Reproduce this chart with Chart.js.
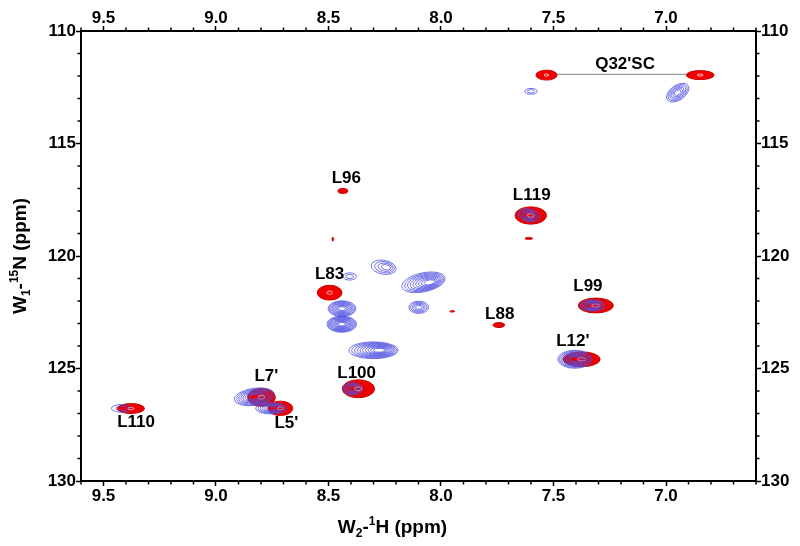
<!DOCTYPE html>
<html>
<head>
<meta charset="utf-8">
<script src="https://cdn.jsdelivr.net/npm/chart.js@4.4.1/dist/chart.umd.min.js"></script>
<style>
  html, body { margin: 0; padding: 0; background: #fff; }
  canvas { display: block; }
</style>
</head>
<body>
<canvas id="hsqc" width="800" height="546"></canvas>
<script>
// axes (ppm)
const xTicks = [9.5, 9.0, 8.5, 8.0, 7.5, 7.0];
const yTicks = [110, 115, 120, 125, 130];
const xRange = [6.6, 9.6];
const yRange = [110, 130];

// red spectrum: peak centre (1H, 15N) and half widths (ppm)
const redH  = [7.531, 6.848, 8.436, 7.601, 7.610, 8.481, 8.495, 7.950, 7.743, 7.312, 7.375, 8.367, 8.798, 8.714, 9.378];
const redN  = [111.96, 111.96, 117.11, 118.20, 119.22, 119.25, 121.63, 122.46, 123.07, 122.20, 124.59, 125.90, 126.28, 126.77, 126.78];
const redWH = [0.047, 0.062, 0.022, 0.070, 0.017, 0.003, 0.055, 0.011, 0.026, 0.078, 0.082, 0.072, 0.062, 0.055, 0.060];
const redWN = [0.22, 0.20, 0.11, 0.385, 0.04, 0.09, 0.33, 0.03, 0.11, 0.33, 0.33, 0.40, 0.40, 0.32, 0.22];

// blue spectrum: centre, half widths, contour levels, tilt (deg), inner shift
const blueH   = [7.600, 6.948, 7.610, 8.406, 8.255, 8.078, 8.099, 8.440, 8.441, 8.300, 7.327, 7.405, 8.393, 8.829, 8.754, 9.420];
const blueN   = [112.68, 112.74, 118.19, 120.91, 120.50, 121.17, 122.28, 122.34, 123.03, 124.19, 122.20, 124.59, 125.90, 126.26, 126.77, 126.77];
const blueWH  = [0.028, 0.056, 0.050, 0.030, 0.056, 0.098, 0.044, 0.062, 0.066, 0.109, 0.056, 0.076, 0.045, 0.090, 0.070, 0.045];
const blueWN  = [0.13, 0.33, 0.28, 0.16, 0.31, 0.42, 0.27, 0.35, 0.36, 0.37, 0.25, 0.40, 0.27, 0.38, 0.25, 0.17];
const blueLev = [2, 6, 5, 2, 4, 9, 5, 9, 11, 10, 6, 9, 5, 8, 6, 2];
const blueRot = [0, -35, 10, 0, 10, -12, 0, 0, 0, 0, 0, 0, 0, -8, 0, 0];
const blueSkew = [0, 0, 0, 0, 0.3, 0.35, 0, 0, 0, 0.3, 0, 0, 0, 0, 0, 0];

// assignments
const labelText = ["Q32'SC", "L96", "L119", "L83", "L88", "L99", "L12'", "L100", "L7'", "L5'", "L110"];
const labelH = [7.182, 8.421, 7.597, 8.495, 7.739, 7.347, 7.414, 8.375, 8.776, 8.687, 9.355];
const labelN = [111.47, 116.54, 117.30, 120.81, 122.59, 121.34, 123.79, 125.21, 125.35, 127.44, 127.39];

// Q32 side-chain NH2 pair connector
const q32H = [7.485, 6.910];
const q32N = [111.93, 111.93];

const FONT = '"Liberation Sans", Arial, sans-serif';

function pts(h, n) { return h.map((v, i) => ({ x: v, y: n[i] })); }

const contourPlugin = {
  id: 'contours',
  beforeDatasetsDraw(chart) {
    const { ctx, chartArea: a } = chart;
    ctx.save();
    ctx.beginPath();
    ctx.rect(a.left, a.top, a.right - a.left, a.bottom - a.top);
    ctx.clip();
    const xs = chart.scales.x, ys = chart.scales.y;
    chart.data.datasets.forEach((ds, di) => {
      if (!ds.peaks) return;
      const meta = chart.getDatasetMeta(di);
      meta.data.forEach((el, i) => {
        const p = ds.data[i];
        const rx = Math.abs(xs.getPixelForValue(p.x + ds.wH[i]) - el.x);
        const ry = Math.abs(ys.getPixelForValue(p.y + ds.wN[i]) - el.y);
        if (ds.peaks === 'fill') {
          ctx.fillStyle = 'rgb(238,0,0)';
          ctx.beginPath();
          ctx.ellipse(el.x, el.y, rx, ry, 0, 0, Math.PI * 2);
          ctx.fill();
          ctx.strokeStyle = 'rgb(205,0,0)';
          ctx.lineWidth = 1;
          ctx.stroke();
          if (ds.wH[i] > 0.04) {
            ctx.strokeStyle = 'rgba(255,215,215,0.85)';
            ctx.beginPath();
            ctx.ellipse(el.x, el.y, rx * 0.22, ry * 0.22, 0, 0, Math.PI * 2);
            ctx.stroke();
          }
        } else {
          const n = ds.lev[i];
          const rot = ds.rot[i] * Math.PI / 180;
          ctx.strokeStyle = 'rgba(80,80,225,0.8)';
          ctx.lineWidth = 1;
          for (let k = 0; k < n; k++) {
            const f = 1 - k * (0.85 / n);
            const cx = el.x + ds.skew[i] * rx * (1 - f);
            ctx.beginPath();
            ctx.ellipse(cx, el.y, rx * f, ry * f, rot, 0, Math.PI * 2);
            ctx.stroke();
          }
        }
      });
    });
    ctx.restore();
  },
  afterDraw(chart) {
    const { ctx, chartArea: a } = chart;
    const xs = chart.scales.x, ys = chart.scales.y;
    ctx.save();
    // minor ticks
    ctx.strokeStyle = '#000';
    ctx.lineWidth = 1.5;
    ctx.beginPath();
    for (let k = Math.ceil(xRange[0] * 10); k <= Math.floor(xRange[1] * 10); k++) {
      if (k % 5 === 0) continue;
      const px = xs.getPixelForValue(k / 10);
      ctx.moveTo(px, a.bottom); ctx.lineTo(px, a.bottom + 3.5);
      ctx.moveTo(px, a.top); ctx.lineTo(px, a.top - 3.5);
    }
    for (let v = yRange[0] + 1; v < yRange[1]; v++) {
      if (v % 5 === 0) continue;
      const py = ys.getPixelForValue(v);
      ctx.moveTo(a.left, py); ctx.lineTo(a.left - 3.5, py);
      ctx.moveTo(a.right, py); ctx.lineTo(a.right + 3.5, py);
    }
    ctx.stroke();

    // peak labels
    ctx.fillStyle = '#000';
    ctx.font = 'bold 17px ' + FONT;
    ctx.textAlign = 'center';
    ctx.textBaseline = 'middle';
    labelText.forEach((t, i) => {
      ctx.fillText(t, xs.getPixelForValue(labelH[i]), ys.getPixelForValue(labelN[i]));
    });

    // axis titles
    const xTitle = [{ t: 'W' }, { t: '2', s: 'sub' }, { t: '-' }, { t: '1', s: 'sup' }, { t: 'H (ppm)' }];
    const yTitle = [{ t: 'W' }, { t: '1', s: 'sub' }, { t: '-' }, { t: '15', s: 'sup' }, { t: 'N (ppm)' }];
    richText(ctx, xTitle, (a.left + a.right) / 2 - 26, a.bottom + 47, 19);
    ctx.translate(21, (a.top + a.bottom) / 2);
    ctx.rotate(-Math.PI / 2);
    richText(ctx, yTitle, 0, 0, 19);
    ctx.restore();
  }
};

function richText(ctx, parts, x, y, size) {
  const big = 'bold ' + size + 'px ' + FONT;
  const small = 'bold ' + Math.round(size * 0.62) + 'px ' + FONT;
  let w = 0;
  parts.forEach(p => { ctx.font = p.s ? small : big; p.w = ctx.measureText(p.t).width; w += p.w; });
  let cx = x - w / 2;
  ctx.textAlign = 'left';
  ctx.textBaseline = 'middle';
  ctx.fillStyle = '#000';
  parts.forEach(p => {
    ctx.font = p.s ? small : big;
    const dy = p.s === 'sub' ? size * 0.3 : p.s === 'sup' ? -size * 0.32 : 0;
    ctx.fillText(p.t, cx, y + dy);
    cx += p.w;
  });
}

function axis(pos, range, ticksArr, fmt, fit, pad) {
  return {
    type: 'linear',
    position: pos,
    reverse: true,
    min: range[0],
    max: range[1],
    afterBuildTicks: s => { s.ticks = ticksArr.map(v => ({ value: v })); },
    afterFit: s => { if (fit.w) s.width = fit.w; if (fit.h) s.height = fit.h; },
    ticks: {
      callback: fmt,
      color: '#000',
      font: { family: FONT, size: 17, weight: 'bold' },
      padding: pad || 0,
      maxRotation: 0,
      autoSkip: false
    },
    grid: { drawOnChartArea: false, tickLength: 5, tickWidth: 1.5, tickColor: '#000' },
    border: { color: '#000', width: 2 }
  };
}

const fmtX = v => v.toFixed(1);
const fmtY = v => String(v);

new Chart(document.getElementById('hsqc'), {
  type: 'scatter',
  data: {
    datasets: [
      {
        type: 'line', data: pts(q32H, q32N), borderColor: '#9a9a9a', borderWidth: 1.2,
        pointRadius: 0, showLine: true, fill: false
      },
      {
        data: pts(redH, redN), peaks: 'fill', wH: redWH, wN: redWN,
        pointRadius: 0, pointHoverRadius: 0
      },
      {
        data: pts(blueH, blueN), peaks: 'line', wH: blueWH, wN: blueWN,
        lev: blueLev, rot: blueRot, skew: blueSkew,
        pointRadius: 0, pointHoverRadius: 0
      }
    ]
  },
  options: {
    responsive: false,
    animation: false,
    events: [],
    layout: { padding: 0 },
    plugins: { legend: { display: false }, tooltip: { enabled: false } },
    scales: {
      x: axis('bottom', xRange, xTicks, fmtX, { h: 65 }),
      x2: axis('top', xRange, xTicks, fmtX, { h: 31 }, -3),
      y: axis('left', yRange, yTicks, fmtY, { w: 81 }),
      y2: axis('right', yRange, yTicks, fmtY, { w: 44 })
    }
  },
  plugins: [contourPlugin]
});
</script>
</body>
</html>
